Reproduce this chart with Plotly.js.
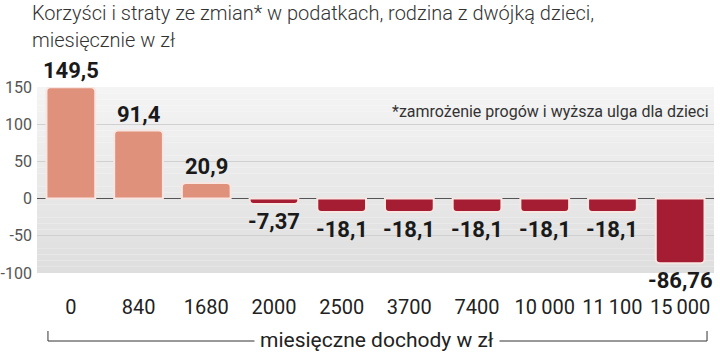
<!DOCTYPE html>
<html>
<head>
<meta charset="utf-8">
<script src="https://cdn.plot.ly/plotly-3.0.1.min.js"></script>
<style>html,body{margin:0;padding:0;background:#fff;}#chart{width:720px;height:352px;}</style>
</head>
<body>
<div id="chart"></div>
<script>
var categories = ["0", "840", "1680", "2000", "2500", "3700", "7400", "10\u2009000", "11\u2009100", "15\u2009000"];
var values = [149.5, 91.4, 20.9, -7.37, -18.1, -18.1, -18.1, -18.1, -18.1, -86.76];
var valueLabels = ["149,5", "91,4", "20,9", "-7,37", "-18,1", "-18,1", "-18,1", "-18,1", "-18,1", "-86,76"];
var yTicks = [-100, -50, 0, 50, 100, 150];
var titleLines = ["Korzyści i straty ze zmian* w podatkach, rodzina z dwójką dzieci,", "miesięcznie w zł"];
var footnote = "*zamrożenie progów i wyższa ulga dla dzieci";
var xAxisTitle = "miesięczne dochody w zł";

var FONT = "Roboto, 'Open Sans', sans-serif";
var POS = "#df917c", NEG = "#a51d33";

var shapes = [];
var nb = 30;
for (var k = 0; k < nb; k++) {
  var t = k / (nb - 1);
  var c0 = [244, 244, 244], c1 = [222, 222, 222];
  var c = c0.map(function (v, j) { return Math.round(v + (c1[j] - v) * t); });
  shapes.push({type: "rect", xref: "paper", yref: "paper", layer: "below",
    x0: 0, x1: 1, y0: 1 - (k + 1) / nb, y1: 1 - k / nb,
    fillcolor: "rgb(" + c.join(",") + ")", line: {width: 0}});
}
var bl = 0.0162, br = 0.9897, by = -0.3656, bt = -0.3118;
shapes.push({type: "line", xref: "paper", yref: "paper", x0: bl, x1: br, y0: by, y1: by, line: {color: "#333", width: 1}});
shapes.push({type: "line", xref: "paper", yref: "paper", x0: bl, x1: bl, y0: by, y1: bt, line: {color: "#333", width: 1}});
shapes.push({type: "line", xref: "paper", yref: "paper", x0: br, x1: br, y0: by, y1: bt, line: {color: "#333", width: 1}});

var annotations = values.map(function (v, i) {
  return {x: i, y: v, xref: "x", yref: "y", text: valueLabels[i], showarrow: false,
    yanchor: v >= 0 ? "bottom" : "top", yshift: v >= 0 ? 2 : -3,
    font: {family: FONT, size: 22, color: "#1a1a1a", weight: 700}};
});
var titleY = [1.398, 1.253];
titleLines.forEach(function (s, i) {
  annotations.push({x: -0.0103, y: titleY[i], xref: "paper", yref: "paper", xanchor: "left", yanchor: "middle",
    text: s, showarrow: false, font: {family: FONT, size: 20, color: "#333", weight: 300}});
});
annotations.push({x: 0.9956, y: 0.866, xref: "paper", yref: "paper", xanchor: "right", yanchor: "middle",
  text: footnote, showarrow: false, font: {family: FONT, size: 16, color: "#333"}});
annotations.push({x: (bl + br) / 2, y: by + 0.005, xref: "paper", yref: "paper", xanchor: "center", yanchor: "middle",
  text: xAxisTitle, showarrow: false, bgcolor: "#ffffff", borderpad: 5,
  font: {family: FONT, size: 21, color: "#222"}});

var trace = {
  type: "bar", x: categories, y: values,
  marker: {color: values.map(function (v) { return v >= 0 ? POS : NEG; }),
    line: {color: "#f7e6e1", width: 2}, cornerradius: 4},
  width: 0.72, hoverinfo: "skip"
};

var layout = {
  width: 720, height: 352,
  margin: {l: 37, r: 6, t: 87, b: 79},
  paper_bgcolor: "#ffffff", plot_bgcolor: "rgba(0,0,0,0)",
  showlegend: false,
  xaxis: {type: "category", range: [-0.5, 9.5], ticks: "outside", ticklen: 16, tickcolor: "rgba(0,0,0,0)",
    tickfont: {family: FONT, size: 20, color: "#222"}, showgrid: false, zeroline: false, showline: false},
  yaxis: {range: [-100, 150], tickvals: yTicks, ticktext: yTicks.map(String),
    tickfont: {family: FONT, size: 16, color: "#555"},
    gridcolor: "#d0d0d0", gridwidth: 1, zeroline: true, zerolinecolor: "#555", zerolinewidth: 1.5,
    showline: false, ticks: "", ticklabelstandoff: 4},
  shapes: shapes, annotations: annotations
};
Plotly.newPlot("chart", [trace], layout, {staticPlot: true});
</script>
</body>
</html>
